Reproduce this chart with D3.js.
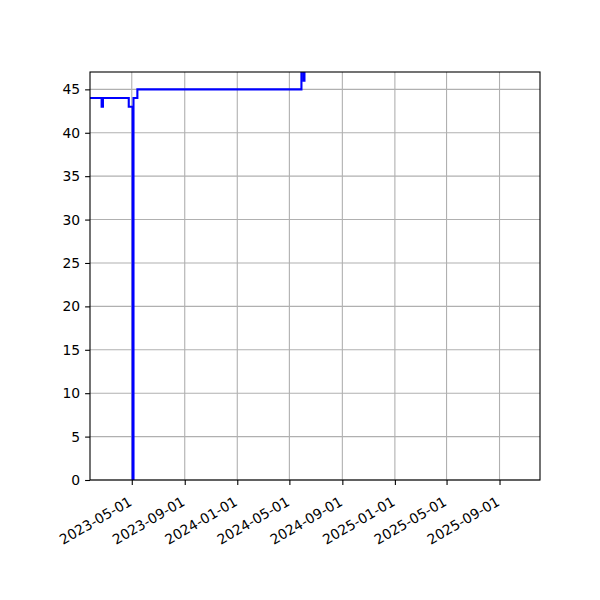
<!DOCTYPE html>
<html>
<head>
    <meta charset="utf-8">
    <script src="https://cdn.jsdelivr.net/npm/d3@7"></script>
    <style>
        body { margin: 0; background: white; }
        text { font-family: "DejaVu Sans", sans-serif; font-size: 13.9px; fill: black; }
    </style>
</head>
<body>
<svg id="chart" width="600" height="600"></svg>
<script>
    // change points of the series (value holds until next date)
    var dates = ["2023-01-20", "2023-02-20", "2023-02-23", "2023-04-24", "2023-05-03", "2023-05-05",
                 "2023-05-14", "2024-05-29", "2024-06-03", "2024-06-05", "2025-10-18"];
    var values = [44, 43, 44, 43, 0, 44, 45, 48, 46, 48, 48];
    var xDomain = ["2023-01-24", "2025-12-04"];
    var yDomain = [0, 47];
    var yTicks = [0, 5, 10, 15, 20, 25, 30, 35, 40, 45];

    var parse = d3.utcParse("%Y-%m-%d");
    var data = dates.map(function (d, i) { return { date: parse(d), value: values[i] }; });

    var margin = { top: 72, right: 60, bottom: 120, left: 90 },
        width = 600 - margin.left - margin.right,
        height = 600 - margin.top - margin.bottom;

    var svg = d3.select("#chart").append("g")
        .attr("transform", "translate(" + margin.left + "," + margin.top + ")");

    var x = d3.scaleUtc().domain(xDomain.map(parse)).range([0, width]);
    var y = d3.scaleLinear().domain(yDomain).range([height, 0]);

    svg.append("clipPath").attr("id", "clip")
        .append("rect").attr("width", width).attr("height", height);

    var xTicks = d3.utcMonth.every(4).range(x.domain()[0], x.domain()[1]);

    // grid
    svg.append("g").selectAll("line").data(xTicks).enter().append("line")
        .attr("x1", function (d) { return x(d); }).attr("x2", function (d) { return x(d); })
        .attr("y1", 0).attr("y2", height)
        .attr("stroke", "#b0b0b0").attr("stroke-width", 1.1);
    svg.append("g").selectAll("line").data(yTicks).enter().append("line")
        .attr("x1", 0).attr("x2", width)
        .attr("y1", function (d) { return y(d); }).attr("y2", function (d) { return y(d); })
        .attr("stroke", "#b0b0b0").attr("stroke-width", 1.1);

    var line = d3.line()
        .x(function (d) { return x(d.date); })
        .y(function (d) { return y(d.value); })
        .curve(d3.curveStepAfter);

    svg.append("path").datum(data)
        .attr("clip-path", "url(#clip)")
        .attr("d", line)
        .attr("fill", "none")
        .attr("stroke", "blue")
        .attr("stroke-width", 2.1);

    // axes
    var xAxis = svg.append("g").attr("transform", "translate(0," + height + ")")
        .call(d3.axisBottom(x).tickValues(xTicks).tickFormat(d3.utcFormat("%Y-%m-%d"))
            .tickSizeInner(4.9).tickSizeOuter(0).tickPadding(4.9));
    xAxis.selectAll("text")
        .style("text-anchor", "end")
        .attr("dy", "0.75em")
        .attr("y", 9.5)
        .attr("transform", "translate(-4.5,6) rotate(-30,0,9.5)");

    var yAxis = svg.append("g")
        .call(d3.axisLeft(y).tickValues(yTicks).tickSizeInner(4.9).tickSizeOuter(0).tickPadding(4.9));
    yAxis.selectAll("text").attr("dy", "0.32em");

    [xAxis, yAxis].forEach(function (a) {
        a.select(".domain").remove();
        a.selectAll("line").attr("stroke", "black").attr("stroke-width", 1.1);
        a.selectAll("text").style("font-size", "13.9px").attr("font-family", "DejaVu Sans");
    });

    svg.append("rect").attr("width", width).attr("height", height)
        .attr("fill", "none").attr("stroke", "black").attr("stroke-width", 1.1);
</script>
</body>
</html>
